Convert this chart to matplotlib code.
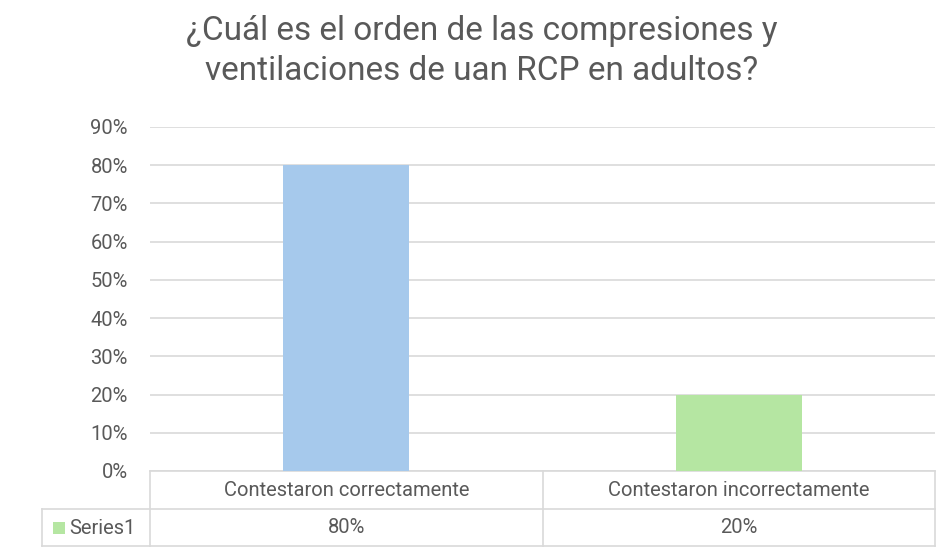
import matplotlib
matplotlib.use("Agg")
import matplotlib.pyplot as plt
from matplotlib.patches import Rectangle
from matplotlib.ticker import PercentFormatter

# data
categories = ["Contestaron correctamente", "Contestaron incorrectamente"]
values = [0.80, 0.20]
value_labels = ["80%", "20%"]
series_name = "Series1"
bar_colors = ["#A6C9EC", "#B5E6A2"]
title = "¿Cuál es el orden de las compresiones y\nventilaciones de uan RCP en adultos?"

txt = "#595959"
grid = "#D9D9D9"
plt.rcParams['font.family'] = ['Roboto', 'DejaVu Sans']

fig = plt.figure(figsize=(9.36, 5.54), dpi=100)
ax = fig.add_axes([150/936, 1-471/554, 785/936, 344/554])

x = list(range(len(categories)))
ax.bar(x, values, width=0.32, color=bar_colors, zorder=3)
ax.set_xlim(-0.5, len(categories) - 0.5)
ax.set_ylim(0, 0.9)
ax.set_yticks([i/10 for i in range(10)])
ax.yaxis.set_major_formatter(PercentFormatter(1.0, decimals=0))
ax.tick_params(axis='y', length=0, labelsize=14.5, labelcolor=txt, pad=16)
ax.tick_params(axis='x', length=0, labelbottom=False)
ax.grid(axis='y', color=grid, linewidth=1.2, zorder=0)
for s in ax.spines.values():
    s.set_visible(False)

# data table below the axis
trans = ax.get_xaxis_transform()
y0, y1, y2 = 0, -38/344, -75/344
xl = -108/785 * len(categories) - 0.5  # left edge of legend column in data units
lw = 1.2
ax.plot([-0.5, len(categories) - 0.5], [y0, y0], color=grid, lw=lw, transform=trans, clip_on=False)
ax.plot([xl, len(categories) - 0.5], [y1, y1], color=grid, lw=lw, transform=trans, clip_on=False)
ax.plot([xl, len(categories) - 0.5], [y2, y2], color=grid, lw=lw, transform=trans, clip_on=False)
ax.plot([xl, xl], [y1, y2], color=grid, lw=lw, transform=trans, clip_on=False)
for b in [i - 0.5 for i in range(len(categories) + 1)]:
    ax.plot([b, b], [y0, y2], color=grid, lw=lw, transform=trans, clip_on=False)

for i, (c, v) in enumerate(zip(categories, value_labels)):
    ax.text(i, (y0 + y1) / 2, c, transform=trans, ha='center', va='center',
            fontsize=14.5, color=txt)
    ax.text(i, (y1 + y2) / 2, v, transform=trans, ha='center', va='center',
            fontsize=14.5, color=txt)

# legend key + series name
fig.patches.append(Rectangle((53/936, 1-534/554), 12/936, 12/554, transform=fig.transFigure,
                             facecolor=bar_colors[1], edgecolor='none'))
fig.text(69/936, 1-528/554, series_name, color=txt, fontsize=14.5, ha='left', va='center')

fig.text(482/936, 1-51/554, title, ha='center', va='center', fontsize=24,
         color=txt, linespacing=1.35)

fig.savefig("out.png", dpi=100, facecolor='white')
